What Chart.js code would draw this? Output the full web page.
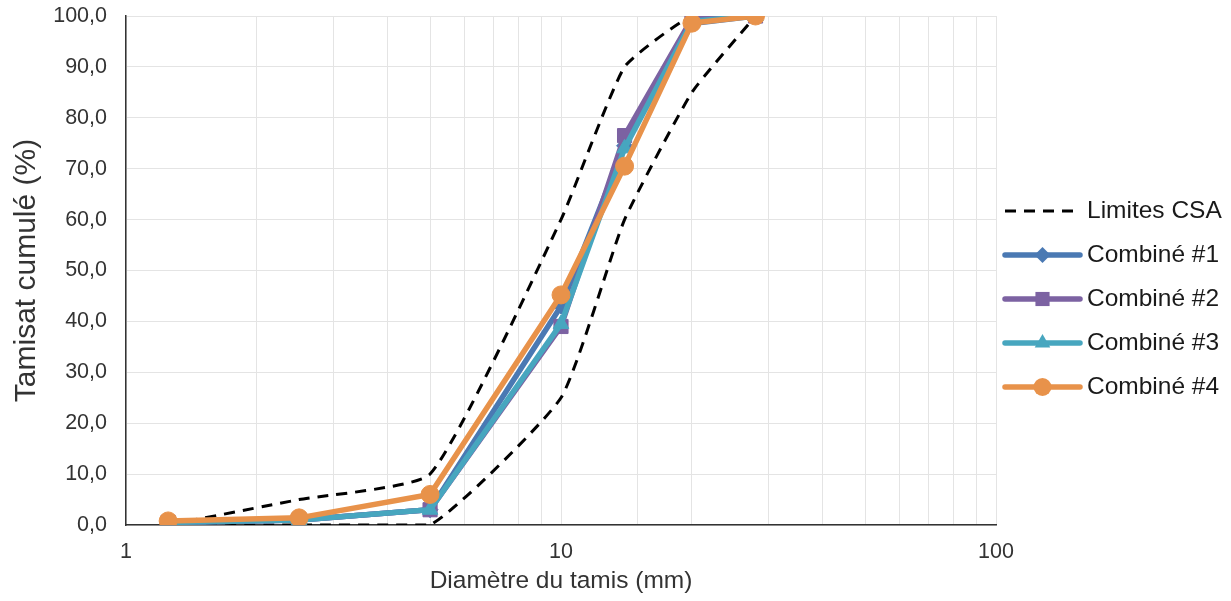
<!DOCTYPE html>
<html>
<head>
<meta charset="utf-8">
<script src="https://cdn.jsdelivr.net/npm/chart.js@4"></script>
<style>
  html, body { margin: 0; padding: 0; background: #fff; }
  #wrap { width: 1231px; height: 601px; }
</style>
</head>
<body>
<div id="wrap"><canvas id="granulo"></canvas></div>
<script>
// tamis (mm)
var tamis = [1.25, 2.5, 5, 10, 14, 20, 28];

// fuseau CSA
var limiteSup = [0, 5, 10, 60, 90, 100, 100];
var limiteInf = [0, 0, 0, 25, 60, 85, 100];

// tamisats cumulés (%)
var combine1 = [0.5, 1.0, 3.0, 43.0, 74.5, 98.5, 100];
var combine2 = [0.5, 1.0, 3.0, 39.0, 76.5, 99.5, 100];
var combine3 = [0.5, 1.0, 3.0, 39.5, 74.0, 99.0, 100];
var combine4 = [0.8, 1.4, 6.0, 45.2, 70.5, 98.6, 100];

var xTicks = [1, 10, 100];

var police = "'Liberation Sans', Arial, Helvetica, sans-serif";

function pts(vals) {
    return tamis.map(function (t, i) { return { x: t, y: vals[i] }; });
}

var series = [
    { label: "Combiné #1", data: combine1, color: "#4a79b3", style: "rectRot", r: 8 },
    { label: "Combiné #2", data: combine2, color: "#7c62a2", style: "rect", r: 10 },
    { label: "Combiné #3", data: combine3, color: "#47a6bf", style: "triangle", r: 9 },
    { label: "Combiné #4", data: combine4, color: "#e8924a", style: "circle", r: 9 }
];

var tirets = [11, 8];

var datasets = [
    { label: "Limites CSA", data: pts(limiteSup), borderColor: "#000", borderWidth: 3,
      borderDash: tirets, pointRadius: 0, fill: false, tension: 0.15, order: 10 },
    { label: "Limites CSA (inf)", data: pts(limiteInf), borderColor: "#000", borderWidth: 3,
      borderDash: tirets, pointRadius: 0, fill: false, tension: 0.15, order: 10 }
];
series.forEach(function (s, i) {
    datasets.push({
        label: s.label,
        data: pts(s.data),
        borderColor: s.color,
        backgroundColor: s.color,
        borderWidth: 5.5,
        pointStyle: s.style,
        pointRadius: s.r,
        pointBorderWidth: 1,
        fill: false,
        order: 5 - i
    });
});

// légende à droite : trait + marqueur
var legendeDroite = {
    id: "legendeDroite",
    afterDraw: function (chart) {
        var ctx = chart.ctx;
        var x0 = 1005, x1 = 1080, xt = 1087;
        var y = 211, pas = 44;
        ctx.save();
        ctx.font = "24.5px " + police;
        ctx.textBaseline = "middle";
        ctx.fillStyle = "#1a1a1a";

        ctx.strokeStyle = "#000";
        ctx.lineWidth = 3;
        ctx.setLineDash(tirets);
        ctx.beginPath(); ctx.moveTo(x0, y); ctx.lineTo(x1, y); ctx.stroke();
        ctx.setLineDash([]);
        ctx.fillText("Limites CSA", xt, y);

        series.forEach(function (s, i) {
            var yy = y + pas * (i + 1);
            ctx.strokeStyle = s.color;
            ctx.lineWidth = 5.5;
            ctx.lineCap = "round";
            ctx.beginPath(); ctx.moveTo(x0, yy); ctx.lineTo(x1, yy); ctx.stroke();
            ctx.fillStyle = s.color;
            Chart.helpers.drawPoint(ctx, { pointStyle: s.style, radius: s.r, rotation: 0, borderWidth: 0 },
                (x0 + x1) / 2, yy);
            ctx.fillStyle = "#1a1a1a";
            ctx.fillText(s.label, xt, yy);
        });
        ctx.restore();
    }
};

new Chart(document.getElementById("granulo"), {
    type: "line",
    data: { datasets: datasets },
    options: {
        responsive: true,
        maintainAspectRatio: false,
        animation: false,
        layout: { padding: { top: 16, right: 235, left: 0, bottom: 0 } },
        plugins: {
            legend: { display: false },
            tooltip: { enabled: false }
        },
        scales: {
            x: {
                type: "logarithmic",
                min: 1,
                max: 100,
                afterFit: function (scale) {
                    scale.height = 76;
                    scale.paddingLeft = 0;
                    scale.paddingRight = 0;
                },
                grid: { color: "#e4e4e4", lineWidth: 1, tickLength: 0 },
                border: { color: "#333", width: 1.5 },
                ticks: {
                    autoSkip: false,
                    maxRotation: 0,
                    padding: 14,
                    color: "#333",
                    font: { family: police, size: 21.5 },
                    callback: function (v) { return xTicks.indexOf(v) >= 0 ? String(v) : ""; }
                },
                title: {
                    display: true,
                    text: "Diamètre du tamis (mm)",
                    color: "#333",
                    font: { family: police, size: 24.5 },
                    padding: { top: 0, bottom: 5 }
                }
            },
            y: {
                min: 0,
                max: 100,
                afterFit: function (scale) {
                    scale.width = 126;
                    scale.paddingTop = 0;
                    scale.paddingBottom = 0;
                },
                grid: { color: "#e4e4e4", lineWidth: 1, tickLength: 0 },
                border: { color: "#333", width: 1.5 },
                ticks: {
                    stepSize: 10,
                    padding: 19,
                    color: "#333",
                    font: { family: police, size: 21.5 },
                    callback: function (v) { return v.toFixed(1).replace(".", ","); }
                },
                title: {
                    display: true,
                    text: "Tamisat cumulé (%)",
                    color: "#333",
                    font: { family: police, size: 30 },
                    padding: { top: 9, bottom: 0 }
                }
            }
        }
    },
    plugins: [legendeDroite]
});
</script>
</body>
</html>
